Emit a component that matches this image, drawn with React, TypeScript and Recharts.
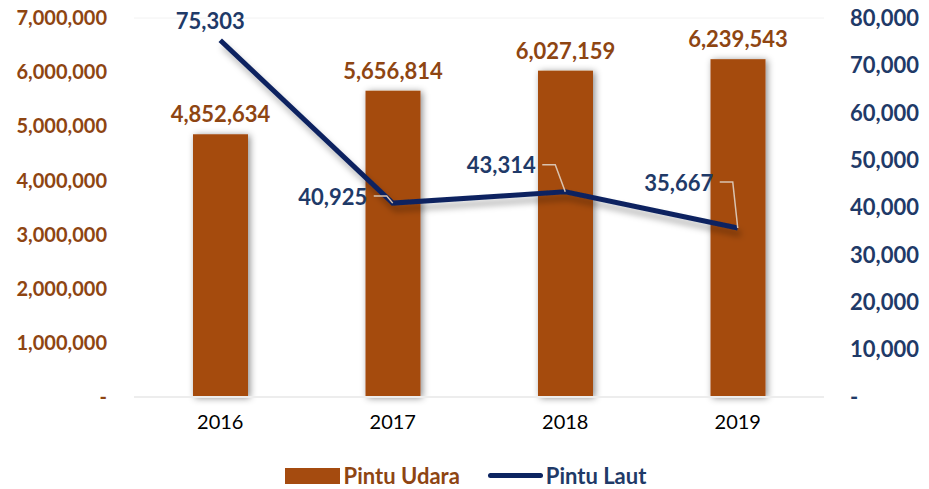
import {
  Bar,
  CartesianGrid,
  ComposedChart,
  LabelList,
  Legend,
  Line,
  XAxis,
  YAxis,
} from 'recharts'

const years = ['2016', '2017', '2018', '2019']
const pintuUdara = [4852634, 5656814, 6027159, 6239543]
const pintuLaut = [75303, 40925, 43314, 35667]
const leftTicks = [0, 1000000, 2000000, 3000000, 4000000, 5000000, 6000000, 7000000]
const rightTicks = [0, 10000, 20000, 30000, 40000, 50000, 60000, 70000, 80000]

const BROWN = '#A54B0F'
const BROWN_TEXT = '#8E4512'
const NAVY = '#0C2461'
const NAVY_TEXT = '#1F3A68'
const FONT = 'Lato, "Noto Sans", sans-serif'

// label offsets for the line's data labels (dx, dy from point) + leader line
const lineLabelPos = [
  { dx: -10, dy: -20, leader: false },
  { dx: -60, dy: -7, leader: true },
  { dx: -64, dy: -27, leader: true },
  { dx: -59, dy: -46, leader: true },
]

const data = years.map((y, i) => ({
  year: y,
  udara: pintuUdara[i],
  laut: pintuLaut[i],
}))

const fmt = (v: number) => (v === 0 ? '-' : v.toLocaleString('en-US'))

const BarShape = (props: any) => {
  const { x, y, width, height } = props
  return (
    <rect
      x={x}
      y={y}
      width={width}
      height={height}
      fill={BROWN}
      style={{ filter: 'url(#barShadow)' }}
    />
  )
}

const LautLabel = (props: any) => {
  const { x, y, value, index } = props
  const pos = lineLabelPos[index]
  const lx = x + pos.dx
  const ly = y + pos.dy
  return (
    <g>
      {pos.leader && (
        <polyline
          points={`${lx + 41},${ly} ${lx + 54},${ly} ${x},${y}`}
          fill="none"
          stroke="#D9C3B0"
          strokeWidth={1.5}
        />
      )}
      <text
        x={lx}
        y={ly}
        textAnchor="middle"
        dominantBaseline="central"
        fill={NAVY_TEXT}
        fontSize={22}
        fontWeight={700}
        fontFamily={FONT}
      >
        {Number(value).toLocaleString('en-US')}
      </text>
    </g>
  )
}

const LegendContent = () => (
  <div
    style={{
      display: 'flex',
      justifyContent: 'center',
      alignItems: 'center',
      fontFamily: FONT,
      fontSize: 22,
      fontWeight: 700,
      marginLeft: 2,
    }}
  >
    <span style={{ display: 'inline-block', width: 55, height: 16, background: BROWN, marginRight: 4 }} />
    <span style={{ color: BROWN_TEXT, marginRight: 28 }}>Pintu Udara</span>
    <span style={{ display: 'inline-block', width: 55, height: 5, borderRadius: 3, background: NAVY, marginRight: 3 }} />
    <span style={{ color: NAVY_TEXT }}>Pintu Laut</span>
  </div>
)

export default function App() {
  return (
    <div style={{ position: 'absolute', left: 0, top: 0, width: 929, height: 489, background: '#fff' }}>
      <style>{`.recharts-line-curve { filter: url(#lineShadow); }`}</style>
      <svg width={0} height={0} style={{ position: 'absolute' }}>
        <defs>
          <filter id="barShadow" x="-40%" y="-10%" width="180%" height="120%">
            <feDropShadow dx={2} dy={1} stdDeviation={3.5} floodColor="#000" floodOpacity={0.45} />
          </filter>
          <filter id="lineShadow" x="-10%" y="-20%" width="120%" height="150%">
            <feDropShadow dx={3} dy={6} stdDeviation={3} floodColor="#000" floodOpacity={0.3} />
          </filter>
        </defs>
      </svg>
      <ComposedChart
        width={929}
        height={489}
        data={data}
        margin={{ top: 18, right: 0, left: 0, bottom: 12 }}
      >
        <CartesianGrid vertical={false} stroke="#F2F2F2" />
        <XAxis
          dataKey="year"
          height={50}
          axisLine={{ stroke: '#EDEDED', strokeWidth: 2 }}
          tickLine={false}
          tickSize={0}
          tickMargin={18}
          tick={{ fontSize: 20, fill: '#000', fontFamily: FONT }}
        />
        <YAxis
          yAxisId="left"
          width={134}
          domain={[0, 7000000]}
          ticks={leftTicks}
          tickFormatter={fmt}
          axisLine={false}
          tickLine={false}
          tickSize={0}
          tickMargin={27}
          tick={{ fontSize: 20, fill: BROWN_TEXT, fontWeight: 700, fontFamily: FONT }}
        />
        <YAxis
          yAxisId="right"
          orientation="right"
          width={105}
          domain={[0, 80000]}
          ticks={rightTicks}
          tickFormatter={fmt}
          axisLine={false}
          tickLine={false}
          tickSize={0}
          tickMargin={26}
          tick={{ fontSize: 22, fill: NAVY_TEXT, fontWeight: 700, fontFamily: FONT, textAnchor: 'start' }}
        />
        <Legend
          verticalAlign="bottom"
          height={30}
          wrapperStyle={{ top: 462 }}
          content={<LegendContent />}
        />
        <Bar
          yAxisId="left"
          dataKey="udara"
          name="Pintu Udara"
          barSize={55}
          fill={BROWN}
          shape={<BarShape />}
          isAnimationActive={false}
        >
          <LabelList
            dataKey="udara"
            position="top"
            offset={12}
            formatter={(v: any) => Number(v).toLocaleString('en-US')}
            style={{ fontSize: 22, fontWeight: 700, fill: BROWN_TEXT, fontFamily: FONT }}
          />
        </Bar>
        <Line
          yAxisId="right"
          dataKey="laut"
          name="Pintu Laut"
          type="linear"
          stroke={NAVY}
          strokeWidth={5}
          dot={false}
          activeDot={false}
          isAnimationActive={false}
        >
          <LabelList dataKey="laut" content={<LautLabel />} />
        </Line>
      </ComposedChart>
    </div>
  )
}
